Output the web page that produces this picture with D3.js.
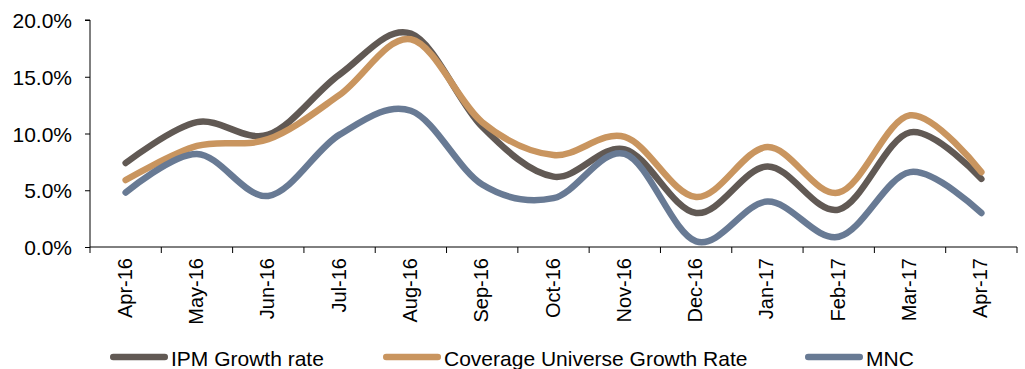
<!DOCTYPE html>
<html>
<head>
<meta charset="utf-8">
<script src="https://cdn.jsdelivr.net/npm/d3@7"></script>
<style>
  html, body { margin: 0; padding: 0; background: #fff; }
  svg { display: block; font-family: "Liberation Sans", Arial, sans-serif; }
</style>
</head>
<body>
<svg id="chart" width="1025" height="369"></svg>
<script>
// Monthly categories
const months = ["Apr-16", "May-16", "Jun-16", "Jul-16", "Aug-16", "Sep-16", "Oct-16",
                "Nov-16", "Dec-16", "Jan-17", "Feb-17", "Mar-17", "Apr-17"];

// Growth rates (%)
const ipmGrowth      = [7.4, 11.0, 9.9, 15.2, 18.8, 10.6, 6.2, 8.6, 3.0, 7.1, 3.3, 10.1, 6.0];
const coverageGrowth = [5.9, 8.9, 9.5, 13.4, 18.3, 11.0, 8.1, 9.7, 4.4, 8.8, 4.8, 11.6, 6.6];
const mncGrowth      = [4.8, 8.2, 4.5, 9.9, 12.0, 5.5, 4.3, 8.2, 0.5, 4.0, 0.9, 6.6, 3.0];

const yTicks = [0, 5, 10, 15, 20];

const series = [
  { name: "IPM Growth rate", values: ipmGrowth, color: "#615954" },
  { name: "Coverage Universe Growth Rate", values: coverageGrowth, color: "#c9955f" },
  { name: "MNC", values: mncGrowth, color: "#687a94" }
];

const svg = d3.select("#chart");
const plotLeft = 90, plotRight = 1017, plotTop = 20, plotBottom = 247;

const x = d3.scaleBand().domain(months).range([plotLeft, plotRight]).padding(0);
const y = d3.scaleLinear().domain([0, 20]).range([plotBottom, plotTop]);

// Y axis
const yAxis = svg.append("g")
  .attr("transform", `translate(${plotLeft},0)`)
  .call(d3.axisLeft(y).tickValues(yTicks).tickSize(5).tickPadding(13)
        .tickFormat(d => d.toFixed(1) + "%"));
yAxis.select(".domain").attr("stroke", "#000").attr("d", `M-5,${y(20)}H0V${y(0)}`);
yAxis.selectAll(".tick line").attr("stroke", "#000");
yAxis.selectAll(".tick text")
  .attr("font-size", 21).attr("fill", "#000").attr("dy", "0.36em")
  .style("font-family", "Liberation Sans, Arial, sans-serif");

// X axis: ticks on category boundaries
const xAxisG = svg.append("g");
xAxisG.append("line")
  .attr("x1", plotLeft).attr("x2", plotRight).attr("y1", plotBottom).attr("y2", plotBottom)
  .attr("stroke", "#000");
const boundaries = months.map(m => x(m)).concat([x(months[months.length - 1]) + x.bandwidth()]);
xAxisG.selectAll("line.tick").data(boundaries).enter().append("line")
  .attr("class", "tick")
  .attr("x1", d => d).attr("x2", d => d)
  .attr("y1", plotBottom).attr("y2", plotBottom + 6)
  .attr("stroke", "#000");
xAxisG.selectAll("text").data(months).enter().append("text")
  .attr("transform", d => `translate(${x(d) + x.bandwidth() / 2},${plotBottom + 11}) rotate(-90)`)
  .attr("text-anchor", "end")
  .attr("dy", "0.3em")
  .attr("font-size", 20)
  .attr("fill", "#000")
  .text(d => d);

// Smoothed lines
const line = d3.line()
  .x((d, i) => x(months[i]) + x.bandwidth() / 2)
  .y(d => y(d))
  .curve(d3.curveCatmullRom.alpha(0));

svg.append("g").selectAll("path").data(series).enter().append("path")
  .attr("d", d => line(d.values))
  .attr("fill", "none")
  .attr("stroke", d => d.color)
  .attr("stroke-width", 6.5)
  .attr("stroke-linecap", "round")
  .attr("stroke-linejoin", "round");

// Legend
const legendX = [110, 383, 805];
const legend = svg.append("g").selectAll("g").data(series).enter().append("g")
  .attr("transform", (d, i) => `translate(${legendX[i]},0)`);
legend.append("line")
  .attr("x1", 3.25).attr("x2", 54.75).attr("y1", 357).attr("y2", 357)
  .attr("stroke", d => d.color).attr("stroke-width", 6.5)
  .attr("stroke-linecap", "round");
legend.append("text")
  .attr("x", 61).attr("y", 365.5)
  .attr("font-size", 21).attr("fill", "#000")
  .text(d => d.name);
</script>
</body>
</html>
